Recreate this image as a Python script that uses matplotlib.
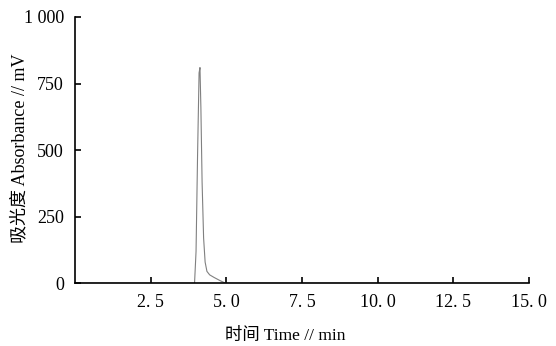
import matplotlib
matplotlib.use("Agg")
import matplotlib.pyplot as plt

plt.rcParams['font.family'] = ['Liberation Serif', 'Noto Sans CJK SC']

time_min = [0.0, 3.95, 4.0, 4.05, 4.1, 4.13, 4.16, 4.2, 4.25, 4.3, 4.36, 4.45, 4.6, 4.8, 4.95, 5.0, 15.0]
absorb_mv = [0, 0, 120, 480, 790, 810, 660, 380, 170, 80, 45, 32, 22, 10, 2, 0, 0]

x_ticks = [2.5, 5.0, 7.5, 10.0, 12.5, 15.0]
y_ticks = [0, 250, 500, 750, 1000]
y_tick_labels = ["0", "250", "500", "750", "1 000"]

fig = plt.figure(figsize=(5.56, 3.46), dpi=100)
ax = fig.add_axes([0.135, 0.181, 0.816, 0.77])
ax.plot(time_min, absorb_mv, color='#808080', linewidth=0.8)
ax.set_xlim(0, 15)
ax.set_ylim(0, 1000)
ax.set_xticks(x_ticks)
ax.set_xticklabels([f"{v:.1f}".replace('.', '. ') for v in x_ticks])
ax.set_yticks(y_ticks)
ax.set_yticklabels(y_tick_labels)
for s in ['top', 'right']:
    ax.spines[s].set_visible(False)
for s in ['left', 'bottom']:
    ax.spines[s].set_linewidth(1.2)
ax.tick_params(direction='in', length=4, width=1.2, labelsize=13, pad=8)
fig.text(285 / 556, 1 - 336 / 346, "时间 Time // min", fontsize=12.5, ha='center', va='center')
fig.text(20 / 556, 1 - 148 / 346, "吸光度 Absorbance // mV", fontsize=13, ha='center', va='center', rotation=90)
fig.savefig("out.png", dpi=100)
